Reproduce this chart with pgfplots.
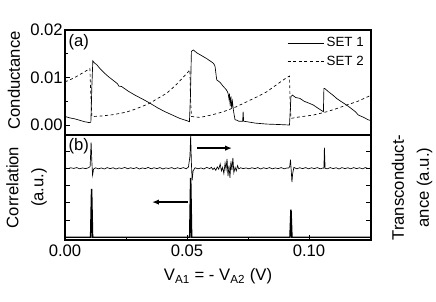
\documentclass[border=0pt]{standalone}
\usepackage{fontspec}
\setmainfont{Liberation Sans}
\setsansfont{Liberation Sans}
\usepackage{pgfplots}
\pgfplotsset{compat=1.18}
\usetikzlibrary{arrows.meta}

\pgfplotstableread{
x y
0.0000 0.0018
0.0020 0.0015
0.0040 0.0013
0.0060 0.0010
0.0080 0.0007
0.0100 0.0005
0.0106 0.0006
0.0110 0.0080
0.0114 0.0135
0.0120 0.0131
0.0130 0.0127
0.0143 0.0119
0.0160 0.0110
0.0180 0.0101
0.0200 0.0093
0.0215 0.0087
0.0220 0.0082
0.0232 0.0081
0.0260 0.0071
0.0290 0.0062
0.0320 0.0054
0.0348 0.0046
0.0380 0.0036
0.0410 0.0028
0.0440 0.0021
0.0470 0.0014
0.0500 0.0009
0.0510 0.0007
0.0514 0.0060
0.0518 0.0155
0.0526 0.0158
0.0540 0.0152
0.0560 0.0146
0.0580 0.0140
0.0600 0.0133
0.0608 0.0130
0.0612 0.0127
0.0615 0.0123
0.0620 0.0102
0.0622 0.0095
0.0635 0.0090
0.0649 0.0081
0.0660 0.0075
0.0666 0.0070
0.0669 0.0065
0.0672 0.0055
0.0674 0.0066
0.0677 0.0040
0.0680 0.0060
0.0683 0.0036
0.0686 0.0050
0.0690 0.0032
0.0693 0.0022
0.0697 0.0011
0.0705 0.0010
0.0712 0.0008
0.0728 0.0008
0.0730 0.0028
0.0732 0.0008
0.0745 0.0007
0.0780 0.0004
0.0827 0.0002
0.0880 0.0001
0.0920 0.0000
0.0923 0.0030
0.0926 0.0060
0.0932 0.0063
0.0945 0.0058
0.0963 0.0056
0.0980 0.0050
0.1000 0.0046
0.1018 0.0042
0.1035 0.0036
0.1050 0.0031
0.1059 0.0028
0.1061 0.0077
0.1064 0.0077
0.1080 0.0070
0.1100 0.0062
0.1113 0.0056
0.1130 0.0050
0.1154 0.0042
0.1175 0.0034
0.1190 0.0028
0.1202 0.0021
0.1220 0.0017
0.1243 0.0011
0.1254 0.0009
}\setone

\pgfplotstableread{
x y
0.0000 0.0091
0.0020 0.0095
0.0040 0.0100
0.0060 0.0106
0.0080 0.0112
0.0102 0.0119
0.0106 0.0060
0.0110 0.0018
0.0116 0.0018
0.0150 0.0019
0.0200 0.0022
0.0250 0.0027
0.0280 0.0032
0.0320 0.0040
0.0348 0.0046
0.0380 0.0056
0.0417 0.0067
0.0450 0.0082
0.0480 0.0098
0.0512 0.0116
0.0514 0.0060
0.0518 0.0018
0.0553 0.0016
0.0600 0.0021
0.0649 0.0028
0.0700 0.0038
0.0745 0.0049
0.0790 0.0060
0.0827 0.0070
0.0870 0.0086
0.0909 0.0100
0.0920 0.0103
0.0922 0.0060
0.0926 0.0014
0.0960 0.0017
0.1018 0.0021
0.1073 0.0028
0.1110 0.0034
0.1154 0.0042
0.1200 0.0050
0.1243 0.0060
0.1254 0.0063
}\settwo

\pgfplotstableread{
x y
0.0000 4.02
0.0012 3.98
0.0024 4.03
0.0036 3.99
0.0048 4.04
0.0060 3.97
0.0072 4.02
0.0084 3.98
0.0096 4.03
0.0103 4.10
0.0107 5.50
0.0110 4.40
0.0113 3.60
0.0117 3.95
0.0125 4.03
0.0137 3.97
0.0149 4.02
0.0161 3.96
0.0173 4.04
0.0185 3.98
0.0197 4.03
0.0209 3.96
0.0221 4.02
0.0233 3.99
0.0245 4.05
0.0257 3.97
0.0269 4.03
0.0281 3.98
0.0293 4.04
0.0305 3.96
0.0317 4.02
0.0329 3.98
0.0341 4.05
0.0353 3.97
0.0365 4.03
0.0377 3.98
0.0389 4.04
0.0401 3.96
0.0413 4.02
0.0425 3.99
0.0437 4.04
0.0449 3.97
0.0461 4.03
0.0473 3.98
0.0485 4.04
0.0497 3.97
0.0506 4.08
0.0512 4.70
0.0515 5.90
0.0518 4.30
0.0521 3.30
0.0525 3.85
0.0533 4.03
0.0545 3.97
0.0557 4.02
0.0569 3.96
0.0581 4.05
0.0593 3.98
0.0600 4.06
0.0606 3.93
0.0612 4.02
0.0618 3.88
0.0624 4.08
0.0630 3.95
0.0636 4.25
0.0641 3.85
0.0646 4.05
0.0651 3.70
0.0656 4.30
0.0660 3.95
0.0664 4.55
0.0668 3.55
0.0672 4.15
0.0676 3.45
0.0680 4.40
0.0684 3.90
0.0688 4.60
0.0692 3.75
0.0697 4.05
0.0702 3.85
0.0707 4.15
0.0712 3.97
0.0720 4.03
0.0730 3.98
0.0742 4.02
0.0754 3.97
0.0766 4.03
0.0778 3.98
0.0790 4.04
0.0802 3.96
0.0814 4.03
0.0826 3.98
0.0838 4.04
0.0850 3.97
0.0862 4.02
0.0874 3.98
0.0886 4.04
0.0898 3.97
0.0910 4.02
0.0917 4.02
0.0921 4.10
0.0924 4.50
0.0927 3.90
0.0930 3.20
0.0933 3.70
0.0938 4.05
0.0950 3.97
0.0962 4.03
0.0974 3.98
0.0986 4.04
0.0998 3.97
0.1010 4.03
0.1022 3.98
0.1034 4.04
0.1046 3.97
0.1058 4.02
0.1061 4.00
0.1063 5.20
0.1066 4.00
0.1075 3.97
0.1087 4.04
0.1099 3.98
0.1111 4.03
0.1123 3.96
0.1135 4.04
0.1147 3.98
0.1159 4.03
0.1171 3.97
0.1183 4.04
0.1195 3.98
0.1207 4.03
0.1219 3.97
0.1231 4.04
0.1243 3.98
0.1254 4.02
}\trans

\pgfplotstableread{
x y
0.0000 0
0.0105 0
0.0109 2.80
0.0113 0
0.0511 0
0.0515 3.45
0.0519 0
0.0922 0
0.0926 1.60
0.0930 0
0.1254 0
}\corr

\pgfplotsset{
  myaxis/.style={
    scale only axis, width=229.5pt, height=78.75pt,
    xmin=0, xmax=0.1254,
    clip mode=individual,
    axis line style={line width=0.9pt},
    tick align=inside,
    major tick length=3.5pt, minor tick length=2pt,
    tick style={line width=0.6pt, black},
    font=\fontsize{12.5}{18.75}\selectfont,
    /pgf/number format/assume math mode=true,
    scaled ticks=false,
    yticklabel style={inner sep=1.5pt},
  }
}

\begin{document}
\begin{tikzpicture}
\path[use as bounding box] (-48.75pt,-45.75pt) rectangle (278.25pt,180pt);
\begin{axis}[myaxis,
  at={(0pt,78.75pt)}, anchor=south west,
  ymin=-0.0021, ymax=0.02,
  xtick=\empty,
  ytick={0,0.01,0.02}, yticklabels={0.00,0.01,0.02},
  minor ytick={0.005,0.015},
  ytick pos=left,
  every axis y label/.style={at={(axis description cs:-0.167,0.52)}, rotate=90, anchor=center},
  ylabel={Conductance},
  legend style={draw=none, fill=none, at={(axis description cs:0.99,0.97)}, anchor=north east,
    font=\fontsize{10}{12}\selectfont, row sep=1.5pt, inner sep=1pt},
  legend cell align=left,
  legend image code/.code={\draw[#1] (0pt,0pt) -- (27pt,0pt);},
]
\addplot[black, line width=0.5pt] table[x=x,y=y] {\setone};
\addlegendentry{SET 1}
\addplot[black, line width=0.5pt, dash pattern=on 2.2pt off 2pt] table[x=x,y=y] {\settwo};
\addlegendentry{SET 2}
\node at (axis description cs:0.045,0.885) {(a)};
\end{axis}

\begin{axis}[myaxis,
  at={(0pt,0pt)}, anchor=south west,
  ymin=-0.16, ymax=5.93,
  xtick={0,0.05,0.1}, xticklabels={0.00,0.05,0.10},
  minor xtick={0.025,0.075},
  xtick pos=bottom,
  ytick={1,2,3,4,5}, yticklabels={},
  ytick pos=both,
  every axis x label/.style={at={(axis description cs:0.5,-0.345)}, anchor=center},
  xlabel={V\textsubscript{A1} = - V\textsubscript{A2} (V)},
  every axis y label/.style={at={(axis description cs:-0.126,0.5)}, rotate=90, anchor=center, align=center},
  ylabel={Correlation\\(a.u.)},
]
\addplot[black, line width=0.5pt] table[x=x,y=y] {\trans};
\addplot[black, line width=1.1pt] table[x=x,y=y] {\corr};
\draw[-{Latex[length=5pt,width=4pt]}, line width=1.2pt] (axis cs:0.0541,5.17) -- (axis cs:0.0684,5.17);
\draw[-{Latex[length=5pt,width=4pt]}, line width=1.2pt] (axis cs:0.0504,2.04) -- (axis cs:0.0357,2.04);
\node at (axis description cs:0.045,0.895) {(b)};
\node[rotate=90, align=center, anchor=center] at (axis description cs:1.134,0.5) {Transconduct-\\ance (a.u.)};
\end{axis}
\end{tikzpicture}
\end{document}
